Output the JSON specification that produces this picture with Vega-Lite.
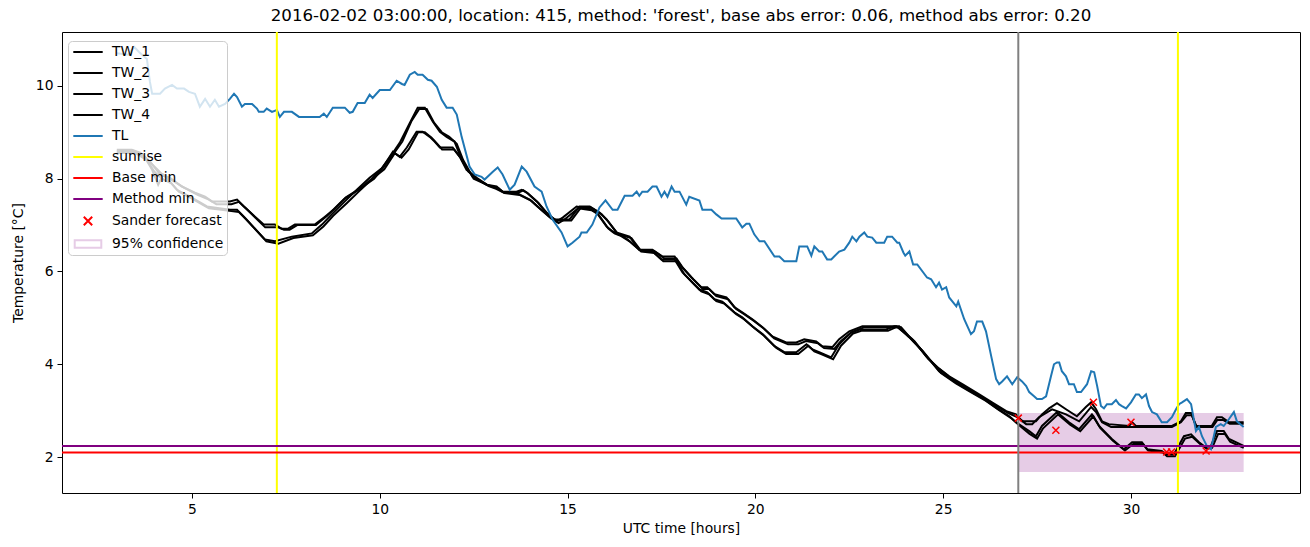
{
"$schema": "https://vega.github.io/schema/vega-lite/v6.json",
"autosize": "none",
"width": 1238, "height": 461,
"padding": {"left": 62, "top": 32, "right": 10, "bottom": 54},
"background": "white",
"title": {"text": "2016-02-02 03:00:00, location: 415, method: 'forest', base abs error: 0.06, method abs error: 0.20", "fontSize": 16.67, "font": "DejaVu Sans", "fontWeight": "normal", "color": "black", "offset": 6, "frame": "group", "anchor": "middle"},
"config": {
 "font": "DejaVu Sans",
 "view": {"stroke": "black", "strokeWidth": 1},
 "axis": {"grid": false, "domain": false, "tickColor": "black", "tickSize": 5, "labelFontSize": 13.89, "labelColor": "black", "titleFontSize": 13.89, "titleFontWeight": "normal", "titleColor": "black", "labelFont": "DejaVu Sans", "titleFont": "DejaVu Sans", "labelPadding": 4}
},
"datasets": {
 "tw1": [
{"t":3.0,"v":8.62},{"t":3.4,"v":8.62},{"t":3.62,"v":8.56},{"t":3.88,"v":8.37},{"t":4.15,"v":8.09},{"t":4.41,"v":8.02},{"t":4.73,"v":7.83},{"t":5.08,"v":7.7},{"t":5.35,"v":7.61},{"t":5.53,"v":7.51},{"t":6.01,"v":7.51},{"t":6.2,"v":7.55},{"t":6.38,"v":7.4},{"t":6.91,"v":7.01},{"t":7.21,"v":7.01},{"t":7.39,"v":6.92},{"t":7.55,"v":6.92},{"t":7.74,"v":7.01},{"t":8.27,"v":7.01},{"t":8.54,"v":7.18},{"t":8.8,"v":7.35},{"t":9.07,"v":7.57},{"t":9.44,"v":7.76},{"t":9.79,"v":8.0},{"t":10.05,"v":8.22},{"t":10.32,"v":8.52},{"t":10.53,"v":8.77},{"t":10.8,"v":9.2},{"t":11.01,"v":9.53},{"t":11.2,"v":9.53},{"t":11.41,"v":9.23},{"t":11.6,"v":9.01},{"t":11.78,"v":8.9},{"t":11.99,"v":8.8},{"t":12.18,"v":8.41},{"t":12.47,"v":8.04},{"t":12.85,"v":7.87},{"t":13.11,"v":7.83},{"t":13.27,"v":7.72},{"t":13.64,"v":7.72},{"t":13.78,"v":7.76},{"t":13.91,"v":7.7},{"t":14.18,"v":7.51},{"t":14.44,"v":7.27},{"t":14.65,"v":7.12},{"t":15.05,"v":7.12},{"t":15.32,"v":7.4},{"t":15.59,"v":7.4},{"t":15.85,"v":7.27},{"t":16.04,"v":7.12},{"t":16.3,"v":6.84},{"t":16.65,"v":6.75},{"t":16.91,"v":6.47},{"t":17.26,"v":6.47},{"t":17.53,"v":6.32},{"t":17.85,"v":6.32},{"t":18.03,"v":6.11},{"t":18.3,"v":5.87},{"t":18.56,"v":5.66},{"t":18.72,"v":5.66},{"t":18.91,"v":5.51},{"t":19.23,"v":5.44},{"t":19.44,"v":5.23},{"t":19.65,"v":5.12},{"t":19.92,"v":4.97},{"t":20.19,"v":4.8},{"t":20.45,"v":4.6},{"t":20.82,"v":4.47},{"t":21.09,"v":4.47},{"t":21.3,"v":4.54},{"t":21.62,"v":4.49},{"t":21.78,"v":4.39},{"t":22.05,"v":4.37},{"t":22.23,"v":4.54},{"t":22.5,"v":4.71},{"t":22.85,"v":4.82},{"t":23.75,"v":4.82},{"t":24.02,"v":4.65},{"t":24.18,"v":4.54},{"t":24.55,"v":4.17},{"t":24.84,"v":3.94},{"t":25.16,"v":3.74},{"t":25.51,"v":3.57},{"t":25.96,"v":3.35},{"t":26.3,"v":3.18},{"t":26.68,"v":2.99},{"t":26.94,"v":2.92},{"t":27.1,"v":2.77},{"t":27.47,"v":2.77},{"t":27.63,"v":2.92},{"t":27.82,"v":3.05},{"t":28.03,"v":3.16},{"t":28.27,"v":3.03},{"t":28.56,"v":2.88},{"t":28.8,"v":3.08},{"t":28.94,"v":3.18},{"t":29.07,"v":3.03},{"t":29.23,"v":2.77},{"t":29.41,"v":2.71},{"t":29.95,"v":2.67},{"t":30.03,"v":2.75},{"t":30.13,"v":2.67},{"t":31.09,"v":2.67},{"t":31.33,"v":2.77},{"t":31.46,"v":2.95},{"t":31.6,"v":2.95},{"t":31.73,"v":2.67},{"t":32.15,"v":2.67},{"t":32.29,"v":2.86},{"t":32.42,"v":2.86},{"t":32.61,"v":2.75},{"t":33.0,"v":2.75}
 ],
 "tw2": [
{"t":3.0,"v":8.6},{"t":3.45,"v":8.6},{"t":3.7,"v":8.5},{"t":3.95,"v":8.3},{"t":4.2,"v":8.1},{"t":4.5,"v":7.95},{"t":4.8,"v":7.8},{"t":5.15,"v":7.65},{"t":5.45,"v":7.55},{"t":5.65,"v":7.45},{"t":6.05,"v":7.45},{"t":6.25,"v":7.5},{"t":6.45,"v":7.35},{"t":6.95,"v":6.95},{"t":7.3,"v":6.95},{"t":7.45,"v":6.9},{"t":7.6,"v":6.9},{"t":7.8,"v":7.0},{"t":8.3,"v":7.0},{"t":8.6,"v":7.2},{"t":8.85,"v":7.4},{"t":9.1,"v":7.6},{"t":9.5,"v":7.8},{"t":9.85,"v":8.0},{"t":10.1,"v":8.25},{"t":10.38,"v":8.55},{"t":10.6,"v":8.8},{"t":10.85,"v":9.25},{"t":11.05,"v":9.5},{"t":11.25,"v":9.5},{"t":11.45,"v":9.2},{"t":11.65,"v":9.0},{"t":11.85,"v":8.9},{"t":12.05,"v":8.75},{"t":12.22,"v":8.4},{"t":12.5,"v":8.0},{"t":12.9,"v":7.85},{"t":13.15,"v":7.8},{"t":13.3,"v":7.7},{"t":13.7,"v":7.7},{"t":13.82,"v":7.75},{"t":13.95,"v":7.68},{"t":14.22,"v":7.48},{"t":14.48,"v":7.22},{"t":14.7,"v":7.1},{"t":15.1,"v":7.1},{"t":15.36,"v":7.38},{"t":15.62,"v":7.38},{"t":15.9,"v":7.24},{"t":16.08,"v":7.08},{"t":16.35,"v":6.8},{"t":16.7,"v":6.72},{"t":16.96,"v":6.44},{"t":17.3,"v":6.44},{"t":17.58,"v":6.28},{"t":17.9,"v":6.28},{"t":18.08,"v":6.07},{"t":18.35,"v":5.83},{"t":18.6,"v":5.62},{"t":18.77,"v":5.62},{"t":18.96,"v":5.47},{"t":19.28,"v":5.4},{"t":19.49,"v":5.19},{"t":19.7,"v":5.08},{"t":19.97,"v":4.93},{"t":20.24,"v":4.76},{"t":20.5,"v":4.56},{"t":20.87,"v":4.43},{"t":21.14,"v":4.43},{"t":21.35,"v":4.5},{"t":21.67,"v":4.45},{"t":21.83,"v":4.35},{"t":22.1,"v":4.33},{"t":22.28,"v":4.5},{"t":22.55,"v":4.68},{"t":22.9,"v":4.8},{"t":23.8,"v":4.8},{"t":24.07,"v":4.6},{"t":24.23,"v":4.5},{"t":24.6,"v":4.12},{"t":24.89,"v":3.9},{"t":25.21,"v":3.7},{"t":25.56,"v":3.52},{"t":26.01,"v":3.3},{"t":26.35,"v":3.13},{"t":26.73,"v":2.95},{"t":27.0,"v":2.85},{"t":27.21,"v":2.71},{"t":27.37,"v":2.71},{"t":27.55,"v":2.86},{"t":27.9,"v":3.03},{"t":28.27,"v":2.92},{"t":28.62,"v":2.77},{"t":28.94,"v":3.08},{"t":29.07,"v":2.97},{"t":29.23,"v":2.75},{"t":29.47,"v":2.65},{"t":30.0,"v":2.65},{"t":31.09,"v":2.65},{"t":31.33,"v":2.75},{"t":31.48,"v":2.9},{"t":31.62,"v":2.9},{"t":31.75,"v":2.65},{"t":32.17,"v":2.65},{"t":32.3,"v":2.8},{"t":32.45,"v":2.8},{"t":32.63,"v":2.72},{"t":33.0,"v":2.72}
 ],
 "tw3": [
{"t":3.0,"v":8.58},{"t":3.48,"v":8.58},{"t":3.75,"v":8.45},{"t":3.94,"v":8.19},{"t":4.1,"v":7.87},{"t":4.23,"v":8.09},{"t":4.41,"v":7.94},{"t":4.6,"v":7.76},{"t":4.95,"v":7.61},{"t":5.4,"v":7.4},{"t":6.01,"v":7.33},{"t":6.2,"v":7.33},{"t":6.38,"v":7.18},{"t":6.94,"v":6.69},{"t":7.21,"v":6.65},{"t":7.66,"v":6.75},{"t":8.19,"v":6.82},{"t":8.46,"v":7.01},{"t":8.72,"v":7.23},{"t":9.07,"v":7.51},{"t":9.39,"v":7.76},{"t":9.73,"v":8.02},{"t":10.08,"v":8.24},{"t":10.35,"v":8.58},{"t":10.53,"v":8.47},{"t":10.72,"v":8.67},{"t":10.98,"v":9.01},{"t":11.14,"v":9.01},{"t":11.33,"v":8.9},{"t":11.46,"v":8.8},{"t":11.6,"v":8.67},{"t":11.94,"v":8.67},{"t":12.13,"v":8.47},{"t":12.31,"v":8.19},{"t":12.58,"v":8.02},{"t":12.85,"v":7.87},{"t":13.06,"v":7.81},{"t":13.27,"v":7.72},{"t":13.67,"v":7.68},{"t":13.99,"v":7.55},{"t":14.2,"v":7.4},{"t":14.52,"v":7.18},{"t":14.71,"v":7.08},{"t":14.87,"v":7.16},{"t":15.24,"v":7.4},{"t":15.59,"v":7.35},{"t":15.77,"v":7.27},{"t":16.04,"v":6.97},{"t":16.2,"v":6.86},{"t":16.38,"v":6.8},{"t":16.6,"v":6.69},{"t":16.91,"v":6.47},{"t":17.26,"v":6.43},{"t":17.5,"v":6.26},{"t":17.85,"v":6.26},{"t":18.06,"v":5.98},{"t":18.3,"v":5.78},{"t":18.51,"v":5.61},{"t":18.72,"v":5.55},{"t":18.91,"v":5.4},{"t":19.12,"v":5.35},{"t":19.44,"v":5.12},{"t":19.65,"v":5.01},{"t":19.92,"v":4.82},{"t":20.19,"v":4.65},{"t":20.51,"v":4.39},{"t":20.77,"v":4.26},{"t":21.09,"v":4.26},{"t":21.36,"v":4.43},{"t":21.52,"v":4.32},{"t":21.7,"v":4.26},{"t":22.02,"v":4.15},{"t":22.23,"v":4.43},{"t":22.55,"v":4.69},{"t":22.77,"v":4.75},{"t":23.48,"v":4.75},{"t":23.7,"v":4.82},{"t":23.83,"v":4.82},{"t":24.15,"v":4.54},{"t":24.41,"v":4.32},{"t":24.89,"v":3.85},{"t":25.29,"v":3.63},{"t":25.64,"v":3.46},{"t":26.09,"v":3.25},{"t":26.44,"v":3.05},{"t":26.76,"v":2.88},{"t":26.94,"v":2.75},{"t":27.29,"v":2.56},{"t":27.47,"v":2.45},{"t":27.63,"v":2.67},{"t":28.03,"v":2.97},{"t":28.35,"v":2.75},{"t":28.62,"v":2.6},{"t":28.96,"v":2.92},{"t":29.15,"v":2.67},{"t":29.49,"v":2.39},{"t":29.81,"v":2.17},{"t":30.03,"v":2.32},{"t":30.29,"v":2.32},{"t":30.43,"v":2.17},{"t":30.82,"v":2.13},{"t":30.93,"v":2.06},{"t":31.14,"v":2.06},{"t":31.22,"v":2.17},{"t":31.41,"v":2.45},{"t":31.6,"v":2.49},{"t":31.81,"v":2.32},{"t":31.99,"v":2.21},{"t":32.13,"v":2.24},{"t":32.29,"v":2.56},{"t":32.47,"v":2.56},{"t":32.61,"v":2.39},{"t":33.0,"v":2.24}
 ],
 "tw4": [
{"t":3.0,"v":8.55},{"t":3.5,"v":8.55},{"t":3.8,"v":8.4},{"t":4.0,"v":8.15},{"t":4.2,"v":8.0},{"t":4.45,"v":7.9},{"t":4.65,"v":7.72},{"t":5.0,"v":7.57},{"t":5.45,"v":7.36},{"t":6.05,"v":7.3},{"t":6.25,"v":7.28},{"t":6.45,"v":7.12},{"t":6.98,"v":6.65},{"t":7.3,"v":6.6},{"t":7.7,"v":6.72},{"t":8.22,"v":6.78},{"t":8.5,"v":6.97},{"t":8.76,"v":7.2},{"t":9.12,"v":7.47},{"t":9.44,"v":7.72},{"t":9.78,"v":7.98},{"t":10.12,"v":8.2},{"t":10.4,"v":8.55},{"t":10.58,"v":8.45},{"t":10.77,"v":8.63},{"t":11.02,"v":9.0},{"t":11.2,"v":9.0},{"t":11.38,"v":8.88},{"t":11.52,"v":8.76},{"t":11.66,"v":8.63},{"t":11.98,"v":8.63},{"t":12.17,"v":8.43},{"t":12.36,"v":8.15},{"t":12.62,"v":7.98},{"t":12.9,"v":7.84},{"t":13.1,"v":7.78},{"t":13.32,"v":7.69},{"t":13.72,"v":7.65},{"t":14.04,"v":7.52},{"t":14.25,"v":7.36},{"t":14.56,"v":7.14},{"t":14.76,"v":7.04},{"t":14.92,"v":7.12},{"t":15.28,"v":7.36},{"t":15.64,"v":7.32},{"t":15.82,"v":7.23},{"t":16.08,"v":6.93},{"t":16.25,"v":6.82},{"t":16.43,"v":6.76},{"t":16.65,"v":6.65},{"t":16.96,"v":6.43},{"t":17.31,"v":6.4},{"t":17.55,"v":6.22},{"t":17.9,"v":6.22},{"t":18.11,"v":5.94},{"t":18.35,"v":5.74},{"t":18.56,"v":5.57},{"t":18.77,"v":5.51},{"t":18.96,"v":5.36},{"t":19.17,"v":5.31},{"t":19.49,"v":5.08},{"t":19.7,"v":4.97},{"t":19.97,"v":4.78},{"t":20.24,"v":4.61},{"t":20.56,"v":4.35},{"t":20.82,"v":4.22},{"t":21.14,"v":4.22},{"t":21.41,"v":4.4},{"t":21.57,"v":4.28},{"t":21.75,"v":4.22},{"t":22.07,"v":4.11},{"t":22.28,"v":4.4},{"t":22.6,"v":4.66},{"t":22.82,"v":4.72},{"t":23.53,"v":4.72},{"t":23.75,"v":4.8},{"t":23.88,"v":4.8},{"t":24.2,"v":4.5},{"t":24.46,"v":4.28},{"t":24.94,"v":3.81},{"t":25.34,"v":3.59},{"t":25.69,"v":3.42},{"t":26.14,"v":3.21},{"t":26.49,"v":3.01},{"t":26.81,"v":2.84},{"t":27.0,"v":2.7},{"t":27.3,"v":2.5},{"t":27.5,"v":2.4},{"t":27.66,"v":2.62},{"t":28.06,"v":2.92},{"t":28.38,"v":2.7},{"t":28.65,"v":2.56},{"t":29.0,"v":2.88},{"t":29.18,"v":2.63},{"t":29.52,"v":2.35},{"t":29.84,"v":2.14},{"t":30.06,"v":2.28},{"t":30.32,"v":2.28},{"t":30.46,"v":2.14},{"t":30.85,"v":2.1},{"t":30.96,"v":2.02},{"t":31.17,"v":2.02},{"t":31.25,"v":2.13},{"t":31.44,"v":2.4},{"t":31.63,"v":2.44},{"t":31.84,"v":2.28},{"t":32.02,"v":2.18},{"t":32.16,"v":2.2},{"t":32.32,"v":2.5},{"t":32.5,"v":2.5},{"t":32.64,"v":2.33},{"t":33.0,"v":2.2}
 ],
 "tl": [
{"t":3.0,"v":10.7},{"t":3.3,"v":10.67},{"t":3.46,"v":10.84},{"t":3.59,"v":10.73},{"t":3.8,"v":10.58},{"t":3.88,"v":10.09},{"t":3.94,"v":9.83},{"t":4.15,"v":9.83},{"t":4.28,"v":9.94},{"t":4.47,"v":10.02},{"t":4.6,"v":9.94},{"t":4.79,"v":9.94},{"t":4.92,"v":9.87},{"t":5.08,"v":9.83},{"t":5.21,"v":9.55},{"t":5.35,"v":9.72},{"t":5.48,"v":9.55},{"t":5.61,"v":9.7},{"t":5.72,"v":9.55},{"t":5.88,"v":9.61},{"t":6.01,"v":9.72},{"t":6.12,"v":9.83},{"t":6.2,"v":9.76},{"t":6.33,"v":9.55},{"t":6.41,"v":9.61},{"t":6.6,"v":9.61},{"t":6.73,"v":9.51},{"t":6.78,"v":9.44},{"t":6.91,"v":9.44},{"t":6.99,"v":9.51},{"t":7.13,"v":9.44},{"t":7.26,"v":9.48},{"t":7.34,"v":9.33},{"t":7.45,"v":9.44},{"t":7.66,"v":9.44},{"t":7.85,"v":9.33},{"t":8.4,"v":9.33},{"t":8.51,"v":9.4},{"t":8.59,"v":9.33},{"t":8.75,"v":9.53},{"t":9.07,"v":9.53},{"t":9.2,"v":9.42},{"t":9.28,"v":9.44},{"t":9.41,"v":9.63},{"t":9.6,"v":9.63},{"t":9.73,"v":9.81},{"t":9.81,"v":9.74},{"t":10.0,"v":9.91},{"t":10.27,"v":9.91},{"t":10.45,"v":10.11},{"t":10.59,"v":10.04},{"t":10.66,"v":10.02},{"t":10.8,"v":10.24},{"t":10.93,"v":10.3},{"t":11.01,"v":10.24},{"t":11.14,"v":10.24},{"t":11.28,"v":10.13},{"t":11.38,"v":10.11},{"t":11.52,"v":9.98},{"t":11.65,"v":9.7},{"t":11.78,"v":9.53},{"t":11.94,"v":9.53},{"t":12.05,"v":9.38},{"t":12.18,"v":8.9},{"t":12.39,"v":8.26},{"t":12.53,"v":8.09},{"t":12.71,"v":8.04},{"t":12.79,"v":7.98},{"t":13.01,"v":8.15},{"t":13.14,"v":8.24},{"t":13.27,"v":8.09},{"t":13.46,"v":7.76},{"t":13.59,"v":7.87},{"t":13.78,"v":8.26},{"t":13.91,"v":8.15},{"t":14.12,"v":7.83},{"t":14.31,"v":7.72},{"t":14.44,"v":7.4},{"t":14.6,"v":7.12},{"t":14.84,"v":6.84},{"t":15.0,"v":6.54},{"t":15.13,"v":6.62},{"t":15.32,"v":6.75},{"t":15.37,"v":6.84},{"t":15.51,"v":6.84},{"t":15.66,"v":7.01},{"t":15.85,"v":7.38},{"t":16.01,"v":7.53},{"t":16.2,"v":7.33},{"t":16.33,"v":7.33},{"t":16.52,"v":7.63},{"t":16.73,"v":7.63},{"t":16.84,"v":7.72},{"t":16.91,"v":7.63},{"t":16.99,"v":7.72},{"t":17.13,"v":7.72},{"t":17.26,"v":7.83},{"t":17.37,"v":7.83},{"t":17.5,"v":7.61},{"t":17.58,"v":7.72},{"t":17.66,"v":7.61},{"t":17.77,"v":7.83},{"t":17.85,"v":7.72},{"t":17.98,"v":7.72},{"t":18.16,"v":7.44},{"t":18.24,"v":7.61},{"t":18.51,"v":7.53},{"t":18.59,"v":7.33},{"t":18.83,"v":7.33},{"t":18.96,"v":7.23},{"t":19.1,"v":7.14},{"t":19.49,"v":7.14},{"t":19.65,"v":6.95},{"t":19.76,"v":7.03},{"t":19.84,"v":7.03},{"t":19.97,"v":6.8},{"t":20.11,"v":6.65},{"t":20.24,"v":6.65},{"t":20.51,"v":6.32},{"t":20.64,"v":6.32},{"t":20.77,"v":6.22},{"t":21.09,"v":6.22},{"t":21.17,"v":6.54},{"t":21.38,"v":6.54},{"t":21.49,"v":6.34},{"t":21.57,"v":6.54},{"t":21.7,"v":6.43},{"t":21.78,"v":6.43},{"t":21.91,"v":6.26},{"t":22.02,"v":6.26},{"t":22.23,"v":6.43},{"t":22.37,"v":6.47},{"t":22.5,"v":6.62},{"t":22.58,"v":6.75},{"t":22.69,"v":6.65},{"t":22.77,"v":6.75},{"t":22.9,"v":6.84},{"t":22.98,"v":6.75},{"t":23.11,"v":6.73},{"t":23.22,"v":6.62},{"t":23.43,"v":6.62},{"t":23.51,"v":6.75},{"t":23.64,"v":6.75},{"t":23.78,"v":6.62},{"t":23.83,"v":6.62},{"t":23.94,"v":6.41},{"t":23.99,"v":6.34},{"t":24.1,"v":6.43},{"t":24.2,"v":6.15},{"t":24.31,"v":6.15},{"t":24.57,"v":5.87},{"t":24.68,"v":5.83},{"t":24.81,"v":5.66},{"t":24.89,"v":5.76},{"t":24.97,"v":5.61},{"t":25.08,"v":5.66},{"t":25.16,"v":5.44},{"t":25.35,"v":5.25},{"t":25.4,"v":5.35},{"t":25.56,"v":4.97},{"t":25.74,"v":4.65},{"t":25.82,"v":4.71},{"t":25.9,"v":4.92},{"t":26.04,"v":4.92},{"t":26.14,"v":4.71},{"t":26.28,"v":4.17},{"t":26.41,"v":3.68},{"t":26.49,"v":3.57},{"t":26.57,"v":3.63},{"t":26.7,"v":3.74},{"t":26.84,"v":3.57},{"t":26.97,"v":3.72},{"t":27.1,"v":3.63},{"t":27.21,"v":3.53},{"t":27.29,"v":3.4},{"t":27.42,"v":3.31},{"t":27.5,"v":3.25},{"t":27.63,"v":3.25},{"t":27.74,"v":3.31},{"t":27.87,"v":3.74},{"t":27.95,"v":4.0},{"t":28.03,"v":4.04},{"t":28.09,"v":4.04},{"t":28.16,"v":3.85},{"t":28.27,"v":3.74},{"t":28.35,"v":3.57},{"t":28.48,"v":3.57},{"t":28.56,"v":3.4},{"t":28.67,"v":3.4},{"t":28.83,"v":3.57},{"t":28.94,"v":3.85},{"t":29.02,"v":3.83},{"t":29.1,"v":3.53},{"t":29.2,"v":3.1},{"t":29.28,"v":3.05},{"t":29.36,"v":3.14},{"t":29.49,"v":3.14},{"t":29.6,"v":3.23},{"t":29.68,"v":3.14},{"t":29.76,"v":3.1},{"t":29.87,"v":3.05},{"t":30.0,"v":3.18},{"t":30.13,"v":3.35},{"t":30.21,"v":3.35},{"t":30.29,"v":3.27},{"t":30.4,"v":3.35},{"t":30.48,"v":3.1},{"t":30.56,"v":2.97},{"t":30.69,"v":2.92},{"t":30.82,"v":2.75},{"t":30.96,"v":2.75},{"t":31.09,"v":2.86},{"t":31.2,"v":3.03},{"t":31.28,"v":3.14},{"t":31.36,"v":3.18},{"t":31.49,"v":3.25},{"t":31.6,"v":3.14},{"t":31.73,"v":2.56},{"t":31.81,"v":2.65},{"t":31.89,"v":2.45},{"t":32.02,"v":2.24},{"t":32.13,"v":2.17},{"t":32.26,"v":2.65},{"t":32.39,"v":2.71},{"t":32.47,"v":2.67},{"t":32.61,"v":2.82},{"t":32.74,"v":2.97},{"t":32.82,"v":2.77},{"t":33.0,"v":2.65}
 ],
 "sunrise": [{"t": 7.26}, {"t": 31.25}],
 "basemin": [{"v": 2.1}],
 "methodmin": [{"v": 2.24}],
 "now": [{"t": 27.0}],
 "forecast": [{"t":27.0,"v":2.84},{"t":28.0,"v":2.58},{"t":29.0,"v":3.18},{"t":30.0,"v":2.75},{"t":30.95,"v":2.11},{"t":31.08,"v":2.11},{"t":32.0,"v":2.13}],
 "conf": [{"t": 27.0, "t2": 33.0, "lo": 1.68, "hi": 2.95}],
 "legendrows": [{"series":"TW_1"},{"series":"TW_2"},{"series":"TW_3"},{"series":"TW_4"},{"series":"TL"},{"series":"sunrise"},{"series":"Base min"},{"series":"Method min"},{"series":"Sander forecast"},{"series":"95% confidence"}]
},
"layer": [
 {"data": {"name": "conf"}, "mark": {"type": "rect", "color": "#800080", "fillOpacity": 0.2},
  "encoding": {
   "x": {"field": "t", "type": "quantitative", "scale": {"domain": [1.54, 34.5], "nice": false, "zero": false}, "axis": {"values": [5,10,15,20,25,30], "title": "UTC time [hours]", "titlePadding": 6}},
   "x2": {"field": "t2"},
   "y": {"field": "lo", "type": "quantitative", "scale": {"domain": [1.226, 11.16], "nice": false, "zero": false}, "axis": {"values": [2,4,6,8,10], "title": "Temperature [°C]", "titlePadding": 10}},
   "y2": {"field": "hi"}
  }},
 {"data": {"name": "tw1"}, "mark": {"type": "line", "strokeWidth": 2, "color": "black"}, "encoding": {"x": {"field": "t", "type": "quantitative"}, "y": {"field": "v", "type": "quantitative"}}},
 {"data": {"name": "tw2"}, "mark": {"type": "line", "strokeWidth": 2, "color": "black"}, "encoding": {"x": {"field": "t", "type": "quantitative"}, "y": {"field": "v", "type": "quantitative"}}},
 {"data": {"name": "tw3"}, "mark": {"type": "line", "strokeWidth": 2, "color": "black"}, "encoding": {"x": {"field": "t", "type": "quantitative"}, "y": {"field": "v", "type": "quantitative"}}},
 {"data": {"name": "tw4"}, "mark": {"type": "line", "strokeWidth": 2, "color": "black"}, "encoding": {"x": {"field": "t", "type": "quantitative"}, "y": {"field": "v", "type": "quantitative"}}},
 {"data": {"name": "tl"}, "mark": {"type": "line", "strokeWidth": 2, "color": "#1f77b4"}, "encoding": {"x": {"field": "t", "type": "quantitative"}, "y": {"field": "v", "type": "quantitative"}}},
 {"data": {"name": "sunrise"}, "mark": {"type": "rule", "strokeWidth": 2, "color": "#ffff00"}, "encoding": {"x": {"field": "t", "type": "quantitative"}}},
 {"data": {"name": "basemin"}, "mark": {"type": "rule", "strokeWidth": 2, "color": "#ff0000"}, "encoding": {"y": {"field": "v", "type": "quantitative"}}},
 {"data": {"name": "methodmin"}, "mark": {"type": "rule", "strokeWidth": 2, "color": "#800080"}, "encoding": {"y": {"field": "v", "type": "quantitative"}}},
 {"data": {"name": "now"}, "mark": {"type": "rule", "strokeWidth": 2, "color": "#808080"}, "encoding": {"x": {"field": "t", "type": "quantitative"}}},
 {"data": {"name": "forecast"}, "mark": {"type": "point", "shape": "M-1,-1L1,1M-1,1L1,-1", "filled": false, "size": 49, "strokeWidth": 1.5, "opacity": 1, "color": "#ff0000"}, "encoding": {"x": {"field": "t", "type": "quantitative"}, "y": {"field": "v", "type": "quantitative"}}},
 {"data": {"name": "legendrows"}, "mark": {"type": "point", "filled": false, "strokeWidth": 2, "opacity": 1},
  "encoding": {
   "x": {"field": "t", "type": "quantitative"},
   "y": {"field": "v", "type": "quantitative"},
   "color": {"field": "series", "type": "nominal",
     "scale": {"domain": ["TW_1","TW_2","TW_3","TW_4","TL","sunrise","Base min","Method min","Sander forecast","95% confidence"], "range": ["black","black","black","black","#1f77b4","#ffff00","#ff0000","#800080","#ff0000","#e6cce6"]},
     "legend": {"title": null, "orient": "none", "legendX": 6, "legendY": 9, "fillColor": "rgba(255,255,255,0.8)", "strokeColor": "#cccccc", "cornerRadius": 4, "padding": 3, "labelFontSize": 13.89, "labelFont": "DejaVu Sans", "labelColor": "black", "symbolSize": 196, "symbolStrokeWidth": 2, "rowPadding": 6.0, "labelOffset": 16, "symbolOffset": 9, "symbolFillColor": "#e6cce6", "symbolOpacity": 1}},
   "shape": {"field": "series", "type": "nominal",
     "scale": {"domain": ["TW_1","TW_2","TW_3","TW_4","TL","sunrise","Base min","Method min","Sander forecast","95% confidence"], "range": ["M-2.1,0H2.1","M-2.1,0H2.1","M-2.1,0H2.1","M-2.1,0H2.1","M-2.1,0H2.1","M-2.1,0H2.1","M-2.1,0H2.1","M-2.1,0H2.1","M-0.6,-0.6L0.6,0.6M-0.6,0.6L0.6,-0.6","M-1.9,-0.55H1.9V0.55H-1.9Z"]},
     "legend": {"title": null, "orient": "none", "legendX": 6, "legendY": 9, "fillColor": "rgba(255,255,255,0.8)", "strokeColor": "#cccccc", "cornerRadius": 4, "padding": 3, "labelFontSize": 13.89, "labelFont": "DejaVu Sans", "labelColor": "black", "symbolSize": 196, "symbolStrokeWidth": 2, "rowPadding": 6.0, "labelOffset": 16, "symbolOffset": 9, "symbolFillColor": "#e6cce6", "symbolOpacity": 1}}
  }}
]
}
